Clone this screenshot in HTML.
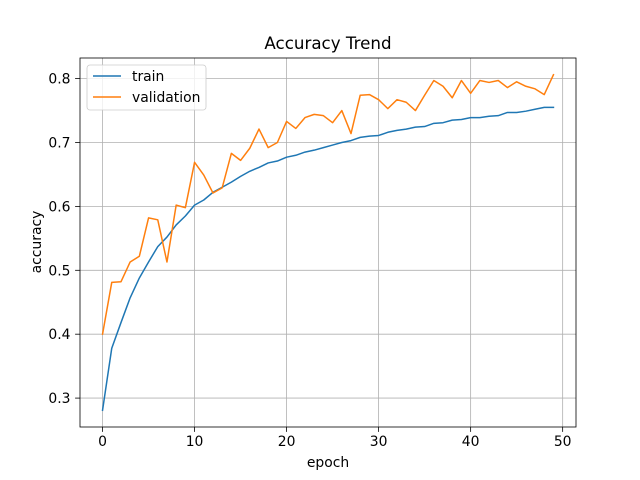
<!DOCTYPE html>
<html><head><meta charset="utf-8"><style>
body{margin:0;background:#fff;}
svg{display:block;font-family:"DejaVu Sans","Liberation Sans",sans-serif;}
</style></head><body>
<svg id="chart" width="640" height="480" viewBox="0 0 640 480">
<rect x="0" y="0" width="640" height="480" fill="#fff"/>
<text x="328" y="49" text-anchor="middle" font-size="16.7" fill="#000">Accuracy Trend</text>
<g id="grid"></g>
<g id="axes"></g>
<g id="series"></g>
<rect x="80" y="58" width="496" height="369" fill="none" stroke="#000" stroke-width="0.8"/>
<text x="328" y="467" text-anchor="middle" font-size="13.9">epoch</text>
<text x="41" y="242" text-anchor="middle" font-size="13.9" transform="rotate(-90 41 242)">accuracy</text>
<g>
<rect x="87" y="65" width="119" height="45" rx="3" fill="#fff" fill-opacity="0.8" stroke="#ccc" stroke-width="0.8"/>
<g>
<line x1="93" y1="76" x2="121" y2="76" stroke="#1f77b4" stroke-width="1.5"/>
<text x="132" y="81" font-size="13.9">train</text></g>
<g>
<line x1="93" y1="97" x2="121" y2="97" stroke="#ff7f0e" stroke-width="1.5"/>
<text x="132" y="102" font-size="13.9">validation</text></g>
</g>
</svg>
<script>
const train=[0.281,0.378,0.418,0.457,0.488,0.513,0.537,0.552,0.571,0.585,0.602,0.610,0.622,0.630,0.638,0.647,0.655,0.661,0.668,0.671,0.677,0.680,0.685,0.688,0.692,0.696,0.700,0.703,0.708,0.710,0.711,0.716,0.719,0.721,0.724,0.725,0.730,0.731,0.735,0.736,0.739,0.739,0.741,0.742,0.747,0.747,0.749,0.752,0.755,0.755];
const validation=[0.400,0.481,0.482,0.513,0.522,0.582,0.579,0.513,0.602,0.598,0.669,0.649,0.621,0.629,0.683,0.672,0.691,0.721,0.692,0.700,0.733,0.722,0.739,0.744,0.742,0.731,0.750,0.714,0.774,0.775,0.767,0.753,0.767,0.763,0.750,0.774,0.797,0.788,0.770,0.797,0.777,0.797,0.794,0.797,0.786,0.795,0.788,0.784,0.775,0.806];
const xTicks=[0,10,20,30,40,50];
const yTicks=[0.3,0.4,0.5,0.6,0.7,0.8];
const L=80,R=576,T=58,B=427;
const n=train.length;
const xmin=-(n-1)*0.05,xmax=(n-1)*1.05;
const all=train.concat(validation);
const lo=Math.min(...all),hi=Math.max(...all),pad=(hi-lo)*0.05;
const ymin=lo-pad,ymax=hi+pad;
const sx=v=>L+(v-xmin)/(xmax-xmin)*(R-L);
const sy=v=>B-(v-ymin)/(ymax-ymin)*(B-T);
const NS="http://www.w3.org/2000/svg";
const grid=document.getElementById('grid'),axes=document.getElementById('axes'),ser=document.getElementById('series');
function mk(tag,attrs,parent){const e=document.createElementNS(NS,tag);for(const k in attrs)e.setAttribute(k,attrs[k]);parent.appendChild(e);return e;}
xTicks.forEach(t=>{const x=sx(t);
const g=mk('line',{x1:x,x2:x,y1:T,y2:B,stroke:'#b0b0b0','stroke-width':0.8},grid);


mk('line',{x1:x,x2:x,y1:B,y2:B+4.9,stroke:'#000','stroke-width':0.8},axes);
const tx=mk('text',{x:x,y:B+19,'text-anchor':'middle','font-size':13.9},axes);tx.textContent=t;

});
yTicks.forEach(t=>{const y=sy(t);
const g=mk('line',{x1:L,x2:R,y1:y,y2:y,stroke:'#b0b0b0','stroke-width':0.8},grid);


mk('line',{x1:L-4.9,x2:L,y1:y,y2:y,stroke:'#000','stroke-width':0.8},axes);
const tx=mk('text',{x:L-9.5,y:y+5,'text-anchor':'end','font-size':13.9},axes);tx.textContent=t.toFixed(1);

});
function line(data,color,name){const p=mk('polyline',{points:data.map((v,i)=>sx(i)+','+sy(v)).join(' '),fill:'none',stroke:color,'stroke-width':1.5,'stroke-linejoin':'round','stroke-linecap':'square'},ser);

}
line(train,'#1f77b4','train-line');
line(validation,'#ff7f0e','validation-line');
</script>
</body></html>
